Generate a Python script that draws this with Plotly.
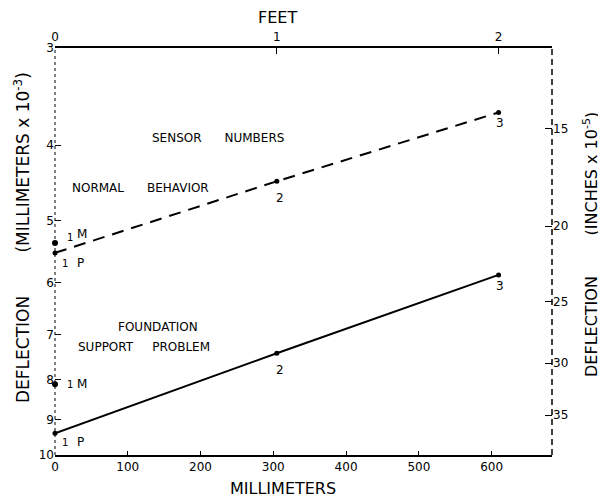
import math
import plotly.graph_objects as go

# ---- data ----
sensor_mm = [0, 304.8, 609.6]          # sensor positions, millimeters (0, 1, 2 ft)
sensor_numbers = ["1", "2", "3"]
normal_defl = [5.50, 4.45, 3.63]       # deflection, mm x 10^-3 (normal behavior)
foundation_defl = [9.38, 7.40, 5.87]   # deflection, mm x 10^-3 (foundation support problem)
measured_normal = 5.34                 # point "M" at sensor 1, normal behavior
measured_foundation = 8.11             # point "M" at sensor 1, foundation problem

x_ticks_mm = [0, 100, 200, 300, 400, 500, 600]
x_ticklabels_mm = ["0", "100", "200", "300", "400", "500", "600"]
feet_ticks = [0, 1, 2]
left_ticks = [3, 4, 5, 6, 7, 8, 9, 10]
right_ticks = [15, 20, 25, 30, 35]

X_MAX_MM = 683
MM_PER_FT = 304.8
MM_PER_1E5_IN = 0.254  # 1e-5 inch = 0.254e-3 mm

# ---- layout geometry (page pixels; the page body has an 8px margin) ----
PAGE_W, PAGE_H = 606, 501
OFF = 8
W, H = PAGE_W - OFF, PAGE_H - OFF
L, R, T, B = 55, 552, 48, 455   # plot area in page pixels

def px(x):
    return (x - L) / (R - L)

def py(y):
    return (B - y) / (B - T)

FONT = "DejaVu Sans"
fig = go.Figure()

# lines
fig.add_trace(go.Scatter(x=sensor_mm, y=normal_defl, mode="lines+markers",
                         line=dict(color="black", width=2, dash="12px,8px"),
                         marker=dict(color="black", size=5), cliponaxis=False,
                         showlegend=False, hoverinfo="skip"))
fig.add_trace(go.Scatter(x=sensor_mm, y=foundation_defl, mode="lines+markers",
                         line=dict(color="black", width=2),
                         marker=dict(color="black", size=5), cliponaxis=False,
                         showlegend=False, hoverinfo="skip"))
fig.add_trace(go.Scatter(x=[0, 0], y=[measured_normal, measured_foundation], mode="markers",
                         marker=dict(color="black", size=6), cliponaxis=False,
                         showlegend=False, hoverinfo="skip"))
# invisible trace to carry the secondary axes
fig.add_trace(go.Scatter(x=[0], y=[20], xaxis="x2", yaxis="y2", mode="markers",
                         marker=dict(opacity=0), showlegend=False, hoverinfo="skip"))

# sensor number labels below points 2 and 3
for xs, ys in [(sensor_mm, normal_defl), (sensor_mm, foundation_defl)]:
    for i in (1, 2):
        fig.add_annotation(x=xs[i], y=math.log10(ys[i]), xref="x", yref="y",
                           text=sensor_numbers[i], showarrow=False,
                           xshift=3 if i == 1 else 1, yshift=-17 if i == 1 else -11,
                           font=dict(family=FONT, size=12, color="black"))

def txt(x, y, s, size=12, xanchor="left", angle=0):
    fig.add_annotation(x=px(x), y=py(y), xref="paper", yref="paper", text=s,
                       showarrow=False, xanchor=xanchor, yanchor="middle",
                       textangle=angle, font=dict(family=FONT, size=size, color="black"))

# M / P labels at sensor 1
txt(65, 237, "1", size=10)
txt(75, 234, "M", size=12)
txt(60, 263, "1", size=10)
txt(75, 263, "P", size=12)
txt(65, 384, "1", size=10)
txt(75, 384, "M", size=12)
txt(60, 442, "1", size=10)
txt(75, 442, "P", size=12)

# in-plot captions
txt(150, 138, "SENSOR      NUMBERS", size=12)
txt(70, 188, "NORMAL      BEHAVIOR", size=12)
txt(158, 327, "FOUNDATION", size=12, xanchor="center")
txt(76, 347, "SUPPORT     PROBLEM", size=12)

# axis titles
txt(277, 18, "FEET", size=16, xanchor="center")
txt(283, 489, "MILLIMETERS", size=16, xanchor="center")
txt(22, 238, "DEFLECTION        (MILLIMETERS x 10<sup>-3</sup>)", size=17, xanchor="center", angle=-90)
txt(591, 245, "DEFLECTION        (INCHES x 10<sup>-5</sup>)", size=16, xanchor="center", angle=-90)

# left (dotted) and right (dashed) frame sides
fig.add_shape(type="line", xref="paper", yref="paper", x0=0, x1=0, y0=0, y1=1,
              line=dict(color="black", width=1, dash="dot"))
fig.add_shape(type="line", xref="paper", yref="paper", x0=1, x1=1, y0=0, y1=1,
              line=dict(color="black", width=1.5, dash="6px,4px"))

tickfont = dict(family=FONT, size=12, color="black")
fig.update_layout(
    width=W, height=H,
    margin=dict(l=L - OFF, r=PAGE_W - R, t=T - OFF, b=PAGE_H - B),
    paper_bgcolor="white", plot_bgcolor="white",
    xaxis=dict(range=[0, X_MAX_MM], tickvals=x_ticks_mm, ticktext=x_ticklabels_mm,
               ticks="inside", ticklen=4, tickcolor="black", showgrid=False, zeroline=False,
               showline=True, linecolor="black", linewidth=2, tickfont=tickfont),
    xaxis2=dict(range=[0, X_MAX_MM / MM_PER_FT], overlaying="x", side="top", anchor="y",
                tickvals=feet_ticks, ticktext=[str(v) for v in feet_ticks],
                ticks="inside", ticklen=6, tickcolor="black", showgrid=False, zeroline=False,
                showline=True, linecolor="black", linewidth=2, tickfont=tickfont),
    yaxis=dict(type="log", range=[math.log10(10), math.log10(3)], tickvals=left_ticks,
               ticktext=[str(v) for v in left_ticks], ticks="inside", ticklen=6,
               tickcolor="black", showgrid=False, zeroline=False, showline=False,
               tickfont=tickfont),
    yaxis2=dict(type="log", overlaying="y", side="right", anchor="x",
                range=[math.log10(10 / MM_PER_1E5_IN), math.log10(3 / MM_PER_1E5_IN)],
                tickvals=right_ticks, ticktext=[str(v) for v in right_ticks],
                ticks="inside", ticklen=7, tickcolor="black", showgrid=False,
                zeroline=False, showline=False, tickfont=tickfont),
)

fig.write_html("out.html")
